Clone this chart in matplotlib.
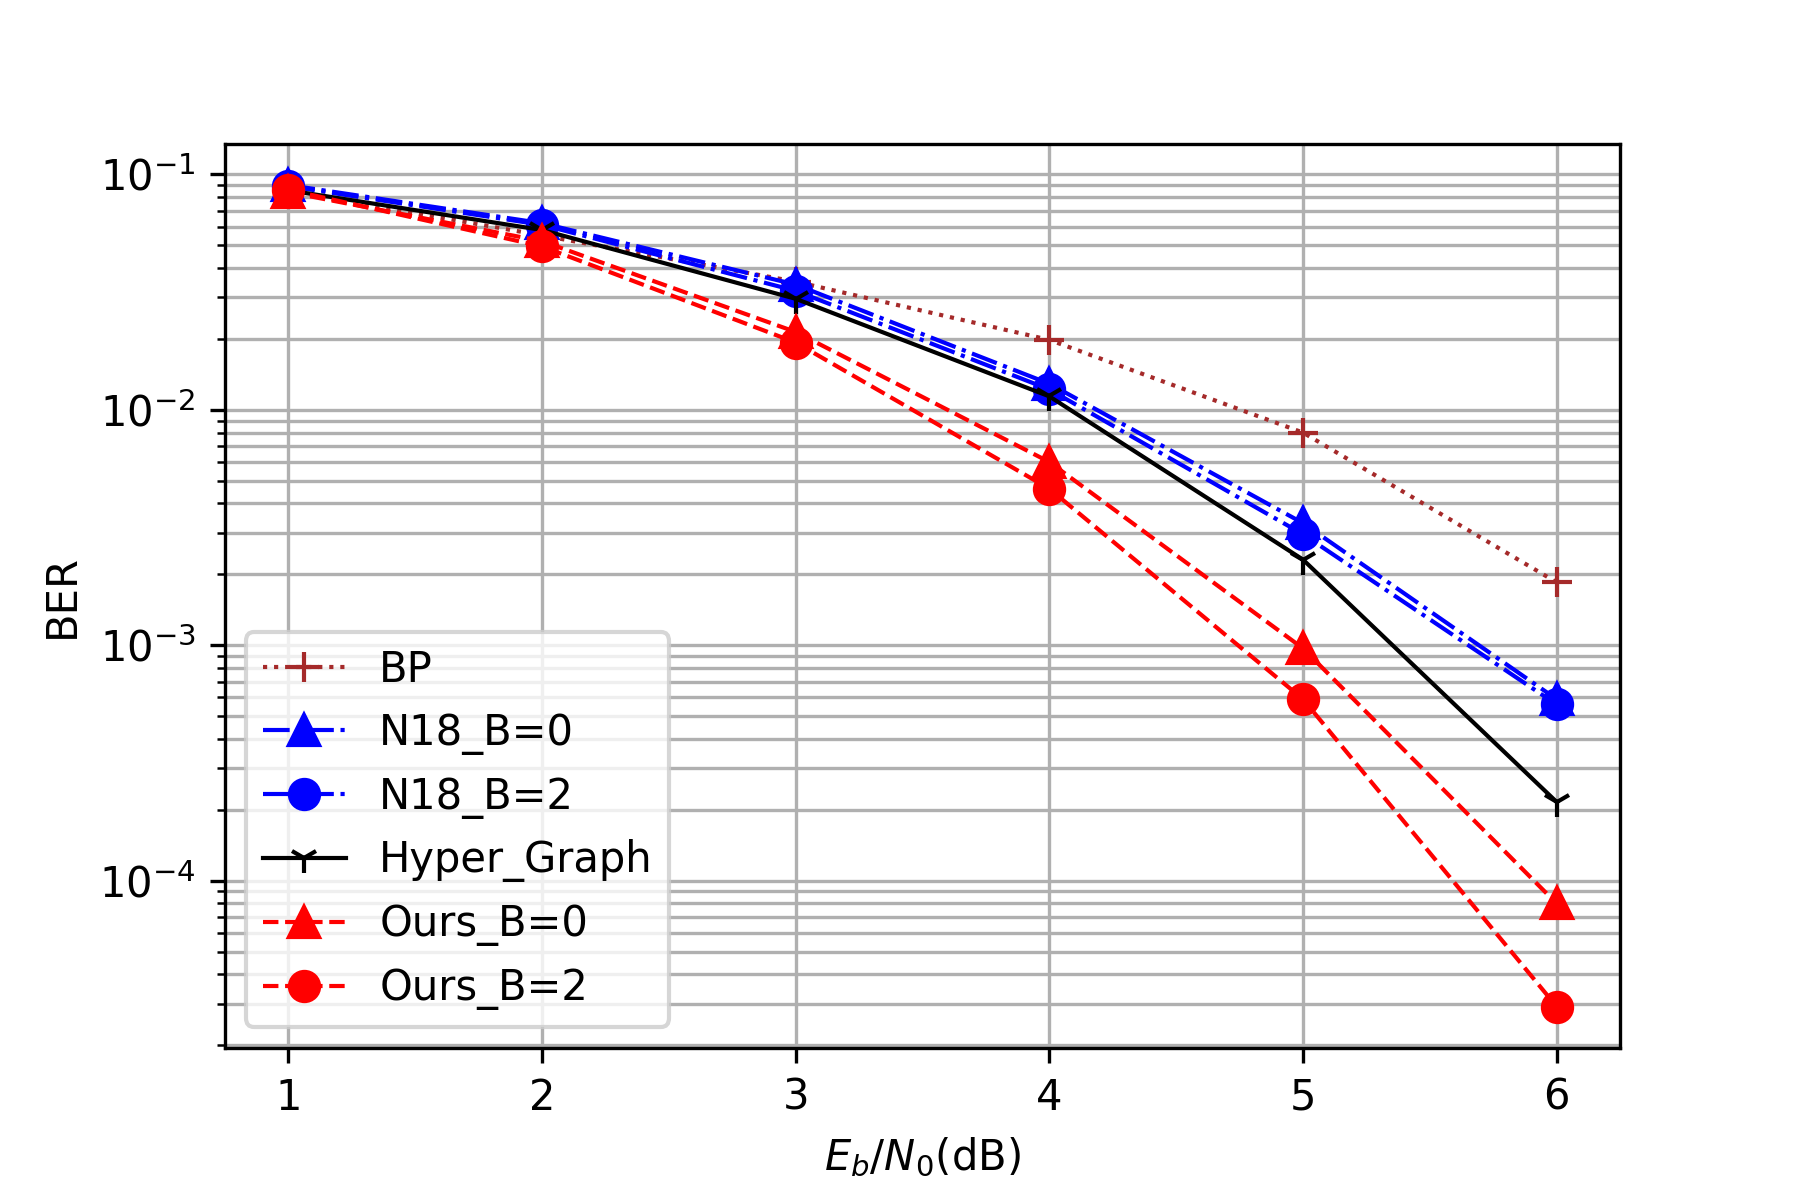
import matplotlib
matplotlib.use("Agg")
import matplotlib.pyplot as plt

# SNR points (dB)
snr = [1, 2, 3, 4, 5, 6]

# BER curves
ber_bp = [0.085, 0.055, 0.035, 0.0198, 0.0080, 0.00185]
ber_n18_b0 = [0.090, 0.062, 0.034, 0.0129, 0.0033, 0.00059]
ber_n18_b2 = [0.089, 0.061, 0.032, 0.0122, 0.00296, 0.00056]
ber_hyper = [0.0855, 0.058, 0.0296, 0.0114, 0.00231, 0.000216]
ber_ours_b0 = [0.084, 0.052, 0.0214, 0.0060, 0.00097, 0.000080]
ber_ours_b2 = [0.086, 0.0494, 0.0193, 0.00462, 0.00059, 0.0000292]

fig = plt.figure(figsize=(6, 4), dpi=300)
plt.subplots_adjust(bottom=0.127, top=0.88)

plt.semilogy(snr, ber_bp, ':', color='brown', marker='+', lw=1, ms=7, label='BP')
plt.semilogy(snr, ber_n18_b0, '-.', color='blue', marker='^', lw=1, ms=7, label='N18_B=0')
plt.semilogy(snr, ber_n18_b2, '-.', color='blue', marker='o', lw=1, ms=7, label='N18_B=2')
plt.semilogy(snr, ber_hyper, '-', color='black', marker='1', lw=1, ms=7, label='Hyper_Graph')
plt.semilogy(snr, ber_ours_b0, '--', color='red', marker='^', lw=1, ms=7, label='Ours_B=0')
plt.semilogy(snr, ber_ours_b2, '--', color='red', marker='o', lw=1, ms=7, label='Ours_B=2')

plt.grid(True, which='both')
plt.xlabel(r'$E_b/N_0$(dB)')
plt.ylabel('BER')
plt.legend(loc='lower left')

plt.savefig('out.png', dpi=300)
